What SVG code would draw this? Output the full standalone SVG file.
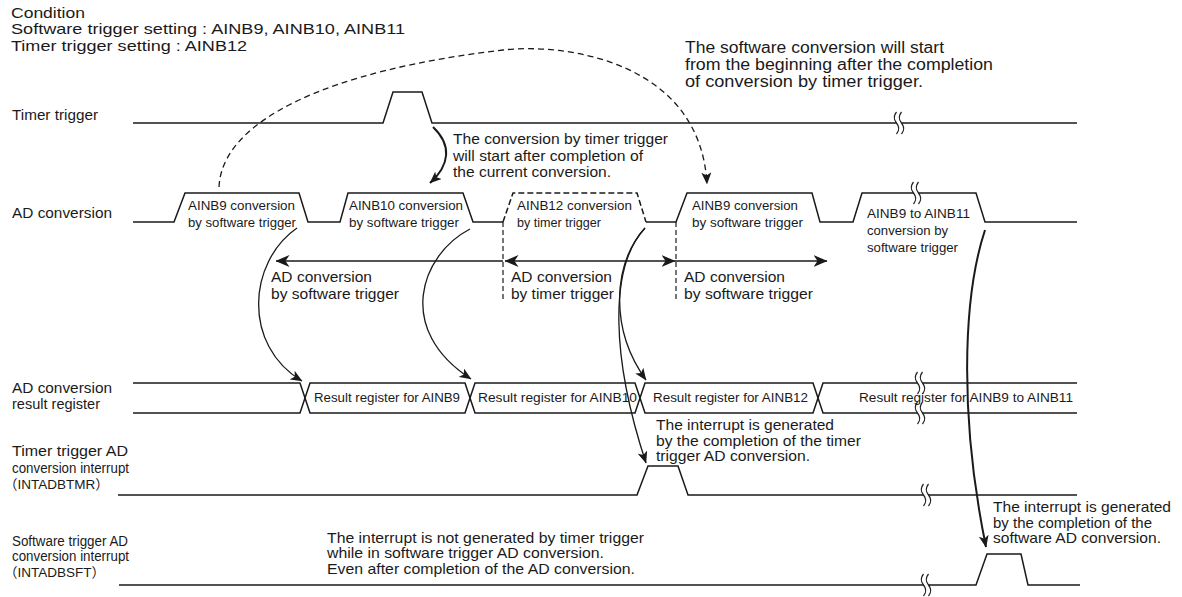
<svg xmlns="http://www.w3.org/2000/svg" width="1182" height="597" viewBox="0 0 1182 597">
<style>
text{font-family:"Liberation Sans","Noto Sans CJK JP",Arial,sans-serif;fill:#1a1a1a}
.t15{font-size:15px}
.t14{font-size:14px}
.t13{font-size:13.5px}
.t12{font-size:12.5px}
.sig{fill:none;stroke:#1a1a1a;stroke-width:1.5;stroke-linejoin:miter}
.dsig{fill:none;stroke:#1a1a1a;stroke-width:1.5;stroke-dasharray:6 3}
.dv{fill:none;stroke:#1a1a1a;stroke-width:1.2;stroke-dasharray:5 3}
.cv{fill:none;stroke:#1a1a1a;stroke-width:1.3}
.hv{fill:none;stroke:#1a1a1a;stroke-width:2}
</style>
<defs>
<marker id="ah" viewBox="0 0 12 10" refX="11.5" refY="5" markerWidth="12" markerHeight="10" markerUnits="userSpaceOnUse" orient="auto"><path d="M0,0 L12,5 L0,10 L3,5 Z" fill="#1a1a1a"/></marker>
<marker id="ah2" viewBox="0 0 14 12" refX="13.5" refY="6" markerWidth="14" markerHeight="12" markerUnits="userSpaceOnUse" orient="auto-start-reverse"><path d="M0,0 L14,6 L0,12 L4,6 Z" fill="#1a1a1a"/></marker>
<g id="brk">
<path d="M-2.5,-11 Q-7,-5.5 -2.5,0 Q2,5.5 -2.5,11 L2.5,11 Q7,5.5 2.5,0 Q-2,-5.5 2.5,-11 Z" fill="#fff" stroke="none"/>
<path d="M-2.5,-11 Q-7,-5.5 -2.5,0 Q2,5.5 -2.5,11 M2.5,-11 Q-2,-5.5 2.5,0 Q7,5.5 2.5,11" fill="none" stroke="#1a1a1a" stroke-width="1.2"/>
</g>
</defs>
<rect width="1182" height="597" fill="#fff"/>

<g id="condition">
<text class="t15" x="11" y="17.5" textLength="74" lengthAdjust="spacingAndGlyphs">Condition</text>
<text class="t15" x="11" y="34" textLength="394" lengthAdjust="spacingAndGlyphs">Software trigger setting : AINB9, AINB10, AINB11</text>
<text class="t15" x="11" y="50.5" textLength="236" lengthAdjust="spacingAndGlyphs">Timer trigger setting : AINB12</text>
</g>

<g id="row-labels">
<text class="t14" x="12" y="120" textLength="86" lengthAdjust="spacingAndGlyphs">Timer trigger</text>
<text class="t14" x="12" y="218" textLength="100" lengthAdjust="spacingAndGlyphs">AD conversion</text>
<text class="t14" x="12" y="393" textLength="100" lengthAdjust="spacingAndGlyphs">AD conversion</text>
<text class="t14" x="12" y="409" textLength="88" lengthAdjust="spacingAndGlyphs">result register</text>
<text class="t14" x="12" y="456" textLength="116" lengthAdjust="spacingAndGlyphs">Timer trigger AD</text>
<text class="t14" x="12" y="472.5" textLength="117" lengthAdjust="spacingAndGlyphs">conversion interrupt</text>
<text class="t13" x="4" y="489">（INTADBTMR）</text>
<text class="t14" x="12" y="546" textLength="116" lengthAdjust="spacingAndGlyphs">Software trigger AD</text>
<text class="t14" x="12" y="561" textLength="117" lengthAdjust="spacingAndGlyphs">conversion interrupt</text>
<text class="t13" x="4" y="577">（INTADBSFT）</text>
</g>

<g id="timer-trigger">
<path class="sig" d="M133,123 H383 L393,92 H422 L432,123 H1077"/>
<use href="#brk" x="899" y="123"/>
</g>

<g id="ad-conversion">
<path class="sig" d="M133,222 H174 L185,193 H299 L308,222 H340 L348,193 H463 L473,222 H503"/>
<path class="dsig" d="M503,222 L513,193 H637 L646,222"/>
<path class="sig" d="M646,222 H676 L687,193 H812 L820,222 H853 L862,193 H976 L985,222 H1077"/>
<use href="#brk" x="916" y="193"/>
<path class="dv" d="M503,222 V302 M676,222 V302"/>
<g class="t12">
<text x="188" y="210" textLength="107" lengthAdjust="spacingAndGlyphs">AINB9 conversion</text>
<text x="188" y="227" textLength="108" lengthAdjust="spacingAndGlyphs">by software trigger</text>
<text x="349" y="210" textLength="114" lengthAdjust="spacingAndGlyphs">AINB10 conversion</text>
<text x="349" y="227" textLength="110" lengthAdjust="spacingAndGlyphs">by software trigger</text>
<text x="517" y="210" textLength="115" lengthAdjust="spacingAndGlyphs">AINB12 conversion</text>
<text x="517" y="227" textLength="84" lengthAdjust="spacingAndGlyphs">by timer trigger</text>
<text x="692" y="210" textLength="106" lengthAdjust="spacingAndGlyphs">AINB9 conversion</text>
<text x="692" y="227" textLength="111" lengthAdjust="spacingAndGlyphs">by software trigger</text>
<text x="867" y="218" textLength="103" lengthAdjust="spacingAndGlyphs">AINB9 to AINB11</text>
<text x="867" y="235" textLength="81" lengthAdjust="spacingAndGlyphs">conversion by</text>
<text x="867" y="252" textLength="91" lengthAdjust="spacingAndGlyphs">software trigger</text>
</g>
</g>

<g id="period-arrows">
<path class="sig" d="M503,261 H276" marker-end="url(#ah2)"/>
<path class="sig" d="M505,261 H675" marker-start="url(#ah2)" marker-end="url(#ah2)"/>
<path class="sig" d="M675,261 H827" marker-end="url(#ah2)"/>
<g class="t15">
<text x="271" y="282" textLength="101" lengthAdjust="spacingAndGlyphs">AD conversion</text>
<text x="271" y="299" textLength="128" lengthAdjust="spacingAndGlyphs">by software trigger</text>
<text x="511" y="282" textLength="101" lengthAdjust="spacingAndGlyphs">AD conversion</text>
<text x="511" y="299" textLength="103" lengthAdjust="spacingAndGlyphs">by timer trigger</text>
<text x="684" y="282" textLength="101" lengthAdjust="spacingAndGlyphs">AD conversion</text>
<text x="684" y="299" textLength="129" lengthAdjust="spacingAndGlyphs">by software trigger</text>
</g>
</g>

<g id="result-register">
<path class="sig" d="M133,383 H300 L310,413 H465 L475,383 H635 L645,413 H813 L823,383 H1077"/>
<path class="sig" d="M133,413 H300 L310,383 H465 L475,413 H635 L645,383 H813 L823,413 H1077"/>
<use href="#brk" x="920" y="383"/>
<use href="#brk" x="920" y="413"/>
<g class="t12">
<text x="314" y="402" textLength="146" lengthAdjust="spacingAndGlyphs">Result register for AINB9</text>
<text x="478" y="402" textLength="159" lengthAdjust="spacingAndGlyphs">Result register for AINB10</text>
<text x="653" y="402" textLength="155" lengthAdjust="spacingAndGlyphs">Result register for AINB12</text>
<text x="859" y="402" textLength="214" lengthAdjust="spacingAndGlyphs">Result register for AINB9 to AINB11</text>
</g>
</g>

<g id="intadbtmr">
<path class="sig" d="M118,495 H637 L648,466 H678 L688,495 H1077"/>
<use href="#brk" x="926" y="495"/>
</g>

<g id="intadbsft">
<path class="sig" d="M119,585 H976 L987,554 H1021 L1028,585 H1080"/>
<use href="#brk" x="926" y="585"/>
</g>

<g id="connectors">
<path class="hv" d="M433,127 C452,145 450,165 430,183" marker-end="url(#ah)"/>
<path class="cv" stroke-dasharray="6 4" d="M219,187 C222,120 330,70 503,50 C563,43 700,60 707,184" marker-end="url(#ah)"/>
<path class="cv" d="M297,228 C248,262 242,345 302,381" marker-end="url(#ah)"/>
<path class="cv" d="M470,229 C420,255 395,330 471,379" marker-end="url(#ah)"/>
<path class="cv" d="M645,228 C612,265 610,330 646,380" marker-end="url(#ah)"/>
<path class="cv" d="M645,228 C608,268 612,360 646,463" marker-end="url(#ah)"/>
<path class="hv" d="M985,230 C962,300 960,420 986,547" marker-end="url(#ah)"/>
</g>

<g id="notes">
<g class="t15">
<text x="453" y="144" textLength="215" lengthAdjust="spacingAndGlyphs">The conversion by timer trigger</text>
<text x="453" y="160.5" textLength="190" lengthAdjust="spacingAndGlyphs">will start after completion of</text>
<text x="453" y="177" textLength="158" lengthAdjust="spacingAndGlyphs">the current conversion.</text>
<text x="656" y="430" textLength="178" lengthAdjust="spacingAndGlyphs">The interrupt is generated</text>
<text x="656" y="446" textLength="205" lengthAdjust="spacingAndGlyphs">by the completion of the timer</text>
<text x="656" y="461" textLength="154" lengthAdjust="spacingAndGlyphs">trigger AD conversion.</text>
<text x="993" y="512" textLength="178" lengthAdjust="spacingAndGlyphs">The interrupt is generated</text>
<text x="993" y="527.5" textLength="159" lengthAdjust="spacingAndGlyphs">by the completion of the</text>
<text x="993" y="543" textLength="168" lengthAdjust="spacingAndGlyphs">software AD conversion.</text>
<text x="327" y="543" textLength="317" lengthAdjust="spacingAndGlyphs">The interrupt is not generated by timer trigger</text>
<text x="327" y="558" textLength="277" lengthAdjust="spacingAndGlyphs">while in software trigger AD conversion.</text>
<text x="327" y="574" textLength="308" lengthAdjust="spacingAndGlyphs">Even after completion of the AD conversion.</text>
</g>
<g class="t15">
<text x="685" y="52.5" font-size="16" textLength="259" lengthAdjust="spacingAndGlyphs">The software conversion will start</text>
<text x="685" y="69.5" font-size="16" textLength="308" lengthAdjust="spacingAndGlyphs">from the beginning after the completion</text>
<text x="685" y="86.5" font-size="16" textLength="238" lengthAdjust="spacingAndGlyphs">of conversion by timer trigger.</text>
</g>
</g>
</svg>
